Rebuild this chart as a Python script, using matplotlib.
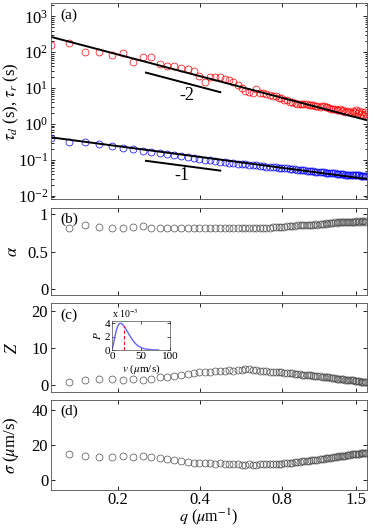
import numpy as np
import matplotlib
matplotlib.use("Agg")
import matplotlib.pyplot as plt
import matplotlib.ticker as mticker

plt.rcParams['font.family'] = ['Liberation Serif', 'DejaVu Serif']
plt.rcParams['mathtext.fontset'] = 'stix'
plt.rcParams['font.size'] = 12
plt.rcParams['xtick.direction'] = 'in'
plt.rcParams['ytick.direction'] = 'in'

# wave vectors (um^-1)
q = [0.114, 0.133, 0.152, 0.171, 0.190, 0.209, 0.228, 0.247, 0.266, 0.285,
     0.304, 0.323, 0.342, 0.361, 0.380, 0.399, 0.418, 0.437, 0.456, 0.475,
     0.494, 0.513, 0.532, 0.551, 0.570, 0.589, 0.608, 0.627, 0.646, 0.665,
     0.684, 0.703, 0.722, 0.741, 0.760, 0.779, 0.798, 0.817, 0.836, 0.855,
     0.874, 0.893, 0.912, 0.931, 0.950, 0.969, 0.988, 1.007, 1.026, 1.045,
     1.064, 1.083, 1.102, 1.121, 1.140, 1.159, 1.178, 1.197, 1.216, 1.235,
     1.254, 1.273, 1.292, 1.311, 1.330, 1.349, 1.368, 1.387, 1.406, 1.425,
     1.444, 1.463, 1.482, 1.501, 1.520, 1.539, 1.558, 1.577, 1.596, 1.615,
     1.634]

# tau_r (s), red
tau_r = [160, 185, 100, 100, 84, 98, 55, 72, 72, 46,
         40, 40, 37, 34, 29, 22, 14.5, 20, 21, 21,
         18, 17, 15, 12.5, 10, 8.5, 7.8, 7.5, 9.2, 7.4,
         7.2, 6.8, 6.5, 6.0, 6.0, 5.4, 5.2, 4.8, 4.6, 4.2,
         4.0, 3.8, 3.7, 3.7, 3.6, 3.5, 3.5, 3.4, 3.3, 3.4,
         3.2, 3.2, 3.0, 3.2, 3.1, 2.9, 3.0, 2.8, 2.7, 2.6,
         2.7, 2.5, 2.4, 2.6, 2.3, 2.4, 2.2, 2.3, 2.1, 2.2,
         2.0, 2.3, 2.1, 2.4, 2.0, 2.3, 1.9, 2.2, 1.8, 2.1,
         1.9]

# tau_d (s), blue
tau_d = [0.42, 0.32, 0.31, 0.27, 0.24, 0.22, 0.20, 0.18, 0.165, 0.155,
         0.145, 0.138, 0.13, 0.122, 0.113, 0.105, 0.101, 0.097, 0.094, 0.090,
         0.087, 0.084, 0.082, 0.079, 0.077, 0.075, 0.073, 0.071, 0.070, 0.068,
         0.067, 0.065, 0.064, 0.063, 0.062, 0.061, 0.060, 0.059, 0.058, 0.057,
         0.056, 0.055, 0.054, 0.053, 0.052, 0.051, 0.050, 0.050, 0.049, 0.048,
         0.047, 0.047, 0.046, 0.045, 0.045, 0.044, 0.044, 0.043, 0.043, 0.042,
         0.042, 0.041, 0.041, 0.040, 0.040, 0.040, 0.039, 0.039, 0.039, 0.038,
         0.038, 0.038, 0.037, 0.037, 0.037, 0.037, 0.036, 0.036, 0.036, 0.036,
         0.035]

# panels b-d start at the second q
alpha = [0.81, 0.85, 0.83, 0.81, 0.82, 0.83, 0.84, 0.81, 0.81, 0.82,
         0.82, 0.82, 0.82, 0.82, 0.82, 0.82, 0.82, 0.82, 0.82, 0.82,
         0.82, 0.82, 0.82, 0.82, 0.82, 0.82, 0.82, 0.82, 0.82, 0.82,
         0.82, 0.82, 0.83, 0.83, 0.83, 0.83, 0.83, 0.84, 0.84, 0.84,
         0.84, 0.85, 0.85, 0.85, 0.85, 0.86, 0.86, 0.86, 0.86, 0.87,
         0.86, 0.87, 0.87, 0.87, 0.88, 0.87, 0.88, 0.88, 0.88, 0.89,
         0.88, 0.89, 0.89, 0.89, 0.89, 0.90, 0.89, 0.90, 0.90, 0.90,
         0.90, 0.90, 0.91, 0.90, 0.91, 0.90, 0.91, 0.91, 0.90, 0.91]

Z = [0.9, 1.2, 1.5, 1.5, 1.3, 1.5, 1.3, 1.6, 2.0, 2.1,
     2.4, 2.7, 2.9, 3.1, 3.4, 3.6, 3.5, 3.7, 3.8, 3.7,
     3.9, 3.8, 4.0, 4.1, 4.4, 4.2, 4.0, 3.9, 3.8, 3.8,
     3.7, 3.6, 3.6, 3.5, 3.5, 3.4, 3.3, 3.2, 3.2, 3.1,
     3.0, 3.0, 2.9, 2.8, 2.8, 2.7, 2.6, 2.6, 2.5, 2.4,
     2.4, 2.3, 2.2, 2.2, 2.1, 2.0, 2.0, 1.9, 1.8, 1.8,
     1.7, 1.6, 1.6, 1.5, 1.5, 1.4, 1.4, 1.3, 1.3, 1.2,
     1.2, 1.1, 1.1, 1.0, 1.0, 0.9, 0.9, 0.9, 0.8, 0.8]

sigma = [14.7, 13.8, 13.3, 13.3, 13.7, 13.0, 13.7, 13.0, 12.4, 11.8,
         11.4, 11.0, 10.5, 10.0, 9.8, 9.6, 9.5, 9.4, 9.6, 9.2,
         9.1, 9.0, 9.0, 8.8, 8.6, 8.9, 8.7, 8.8, 8.9, 9.0,
         9.0, 9.1, 9.1, 9.2, 9.3, 9.4, 9.5, 9.6, 9.8, 9.9,
         10.1, 10.2, 10.4, 10.6, 10.7, 10.9, 11.0, 11.2, 11.3, 11.5,
         11.7, 11.8, 12.0, 12.2, 12.3, 12.5, 12.7, 12.8, 13.0, 13.2,
         13.3, 13.5, 13.6, 13.8, 13.9, 14.0, 14.2, 14.3, 14.4, 14.6,
         14.7, 14.8, 14.9, 15.0, 15.1, 15.2, 15.3, 15.3, 15.4, 15.5]

# inset: speed distribution
v = [0, 2.5, 5, 7.5, 10, 12.5, 15, 17.5, 20, 22.5, 25, 30, 35, 40, 45, 50,
     55, 60, 70, 80]
P = [0, 0.9, 2.0, 3.0, 3.6, 3.95, 4.0, 3.9, 3.65, 3.35, 3.0, 2.25, 1.55,
     1.0, 0.62, 0.37, 0.21, 0.12, 0.035, 0.01]
v_mean = 20

# power-law fits and slope guides
fit_r = 3.46     # tau_r = A q^-2
fit_d = 0.0484   # tau_d = A q^-1
guide_q = [0.254, 0.476]
guide2 = [27, 7.7]
guide1 = [0.0944, 0.0504]

xlim = (0.1138, 1.646)
qb = q[1:]

fig = plt.figure(figsize=(3.74, 5.29), dpi=100)
W, H = 374, 529
def box(top, bot, left=51, right=367):
    return [left / W, 1 - bot / H, (right - left) / W, (bot - top) / H]

ax_a = fig.add_axes(box(3.3, 199.3))
ax_b = fig.add_axes(box(207.7, 295))
ax_c = fig.add_axes(box(303.3, 392.3))
ax_d = fig.add_axes(box(400, 490))

mk = dict(marker='o', ls='none', mfc='none', ms=5, mew=0.5)
ax_a.plot(q, tau_r, mec='red', **mk)
ax_a.plot(q, tau_d, mec='blue', **mk)
qq = np.array(xlim)
ax_a.plot(qq, fit_r * qq**-2, 'k-', lw=1.4)
ax_a.plot(qq, fit_d * qq**-1, 'k-', lw=1.4)
ax_a.plot(guide_q, guide2, 'k-', lw=1.4)
ax_a.plot(guide_q, guide1, 'k-', lw=1.4)
ax_a.text(0.36, 6.4, '-2', ha='center', va='center', fontsize=13)
ax_a.text(0.345, 0.037, '-1', ha='center', va='center', fontsize=13)
ax_a.set_yscale('log')
ax_a.set_ylim(0.008, 2300)
ax_a.set_yticks([1e-2, 1e-1, 1, 10, 100, 1000])
ax_a.yaxis.set_minor_locator(mticker.LogLocator(subs=np.arange(2, 10), numticks=20))
ax_a.yaxis.set_minor_formatter(mticker.NullFormatter())
ax_a.set_ylabel(r'$\tau_d$ (s), $\tau_r$ (s)')

ax_b.plot(qb, alpha, mec='0.3', **mk)
ax_b.set_ylim(-0.08, 1.087)
ax_b.set_yticks([0, 0.5, 1])
ax_b.set_yticklabels(['0', '0.5', '1'])
ax_b.set_ylabel(r'$\alpha$')

ax_c.plot(qb, Z, mec='0.3', **mk)
ax_c.set_ylim(-2, 22)
ax_c.set_yticks([0, 10, 20])
ax_c.set_ylabel(r'$Z$')

ax_d.plot(qb, sigma, mec='0.3', **mk)
ax_d.set_ylim(-5.7, 45.7)
ax_d.set_yticks([0, 20, 40])
ax_d.set_ylabel(r'$\sigma$ ($\mu$m/s)')
ax_d.set_xlabel(r'$q$ ($\mu$m$^{-1}$)', labelpad=-1, fontsize=11.5)

for ax, lab, ly in [(ax_a, '(a)', 0.94), (ax_b, '(b)', 0.87), (ax_c, '(c)', 0.87), (ax_d, '(d)', 0.88)]:
    ax.set_xscale('log')
    ax.set_xlim(*xlim)
    ax.set_xticks([0.2, 0.4, 0.8, 1.5])
    ax.xaxis.set_minor_locator(mticker.NullLocator())
    ax.xaxis.set_minor_formatter(mticker.NullFormatter())
    if ax is ax_d:
        ax.set_xticklabels(['0.2', '0.4', '0.8', '1.5'])
    else:
        ax.set_xticklabels([])
    ax.tick_params(which='both', top=True, right=True, length=3, width=0.6, labelsize=12)
    ax.tick_params(axis='x', pad=1.5)
    ax.tick_params(axis='y', pad=2)
    ax.tick_params(which='minor', length=1.8)
    for s in ax.spines.values():
        s.set_linewidth(0.6)
        s.set_color('0.3')
    ax.text(0.03, ly, lab, transform=ax.transAxes, ha='left', va='center', fontsize=11)
    ax.yaxis.set_label_coords(-0.095, 0.5)

# inset
ax_i = fig.add_axes(box(320.7, 350, left=112, right=170))
ax_i.plot(v, P, color=(0.4, 0.4, 1.0), lw=1)
ax_i.plot([v_mean, v_mean], [0, 3.65], color='red', ls='--', lw=0.8, dashes=(3, 2))
ax_i.set_xlim(0, 100)
ax_i.set_ylim(0, 4.4)
ax_i.set_xticks([0, 50, 100])
ax_i.set_yticks([0, 2, 4])
ax_i.tick_params(direction='in', length=2, width=0.5, labelsize=8, pad=1.5, top=True, right=True)
for s in ax_i.spines.values():
    s.set_linewidth(0.5)
    s.set_color('0.3')
ax_i.set_xlabel(r'$v$ ($\mu$m/s)', fontsize=8, labelpad=1)
ax_i.set_ylabel(r'$P$', fontsize=8, labelpad=1)
ax_i.text(0, 1.03, r'x 10$^{-3}$', transform=ax_i.transAxes, fontsize=7, ha='left', va='bottom')

fig.savefig('out.png', dpi=100)
